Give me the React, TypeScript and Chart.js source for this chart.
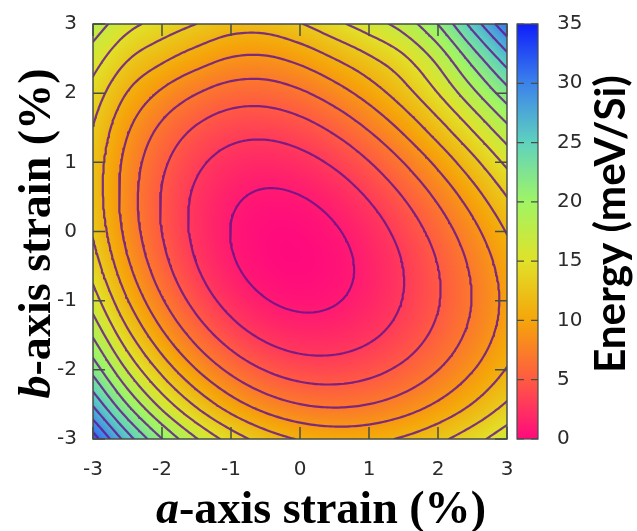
import React, { useEffect, useRef } from 'react';
import { Chart, registerables } from 'chart.js';

Chart.register(...registerables);

// ---------------- data ----------------
const aStrain = [-3, -2.5, -2, -1.5, -1, -0.5, 0, 0.5, 1, 1.5, 2, 2.5, 3];
const bStrain = [-3, -2.5, -2, -1.5, -1, -0.5, 0, 0.5, 1, 1.5, 2, 2.5, 3];

// energy (meV/Si) along aStrain, one array per b-axis strain
const energyAtBm30 = [32.06, 25.99, 21.04, 17.12, 14.17, 12.11, 10.86, 10.35, 10.5, 11.25, 12.5, 14.2, 16.26];
const energyAtBm25 = [26.74, 20.97, 16.29, 12.64, 9.92, 8.08, 7.03, 6.7, 7.02, 7.91, 9.29, 11.09, 13.24];
const energyAtBm20 = [22.33, 16.84, 12.43, 9.03, 6.55, 4.93, 4.08, 3.94, 4.42, 5.46, 6.98, 8.9, 11.14];
const energyAtBm15 = [18.77, 13.57, 9.42, 6.27, 4.02, 2.61, 1.97, 2.02, 2.67, 3.87, 5.53, 7.58, 9.94];
const energyAtBm10 = [16.03, 11.1, 7.2, 4.29, 2.27, 1.09, 0.65, 0.88, 1.72, 3.08, 4.89, 7.07, 9.56];
const energyAtBm05 = [14.06, 9.38, 5.74, 3.06, 1.27, 0.3, 0.06, 0.49, 1.51, 3.04, 5.01, 7.35, 9.97];
const energyAtB00 = [12.81, 8.38, 4.98, 2.54, 0.97, 0.21, 0.18, 0.81, 2.01, 3.72, 5.86, 8.36, 11.13];
const energyAtBp05 = [12.24, 8.05, 4.88, 2.66, 1.32, 0.77, 0.95, 1.77, 3.17, 5.06, 7.38, 10.04, 12.99];
const energyAtBp10 = [12.3, 8.35, 5.42, 3.43, 2.28, 1.93, 2.32, 3.34, 4.93, 7.02, 9.52, 12.37, 15.49];
const energyAtBp15 = [12.95, 9.29, 6.64, 4.85, 3.85, 3.67, 4.24, 5.46, 7.23, 9.48, 12.18, 15.25, 18.58];
const energyAtBp20 = [14.2, 10.91, 8.67, 7.06, 6.08, 5.96, 6.68, 8.06, 9.88, 12.14, 15.01, 18.46, 22.17];
const energyAtBp25 = [15.97, 13.16, 11.4, 9.97, 8.88, 8.73, 9.57, 11.02, 12.67, 14.63, 17.64, 21.79, 26.14];
const energyAtBp30 = [18.15, 15.67, 14.25, 12.99, 11.95, 11.89, 12.89, 14.45, 16.06, 17.87, 21.06, 25.76, 30.65];

const energyGrid = [
  energyAtBm30, energyAtBm25, energyAtBm20, energyAtBm15, energyAtBm10, energyAtBm05,
  energyAtB00, energyAtBp05, energyAtBp10, energyAtBp15, energyAtBp20, energyAtBp25, energyAtBp30,
];

const contourLevels = [1, 3, 5, 7, 9, 11, 13, 15, 17, 19, 21, 23, 25, 27, 29, 31, 33, 35];
const axisTicks = [-3, -2, -1, 0, 1, 2, 3];
const colorbarTicks = [0, 5, 10, 15, 20, 25, 30, 35];

const paletteValues = [0, 5, 10, 15, 20, 25, 30, 35];
const paletteColors = ['#ff0a7d', '#ff5a42', '#f5a50a', '#e1e128', '#a0f564', '#5fd2be', '#3c82eb', '#0f1efa'];

// ---------------- helpers ----------------
const hexToRgb = (h: string) => [parseInt(h.slice(1, 3), 16), parseInt(h.slice(3, 5), 16), parseInt(h.slice(5, 7), 16)];
const paletteRgb = paletteColors.map(hexToRgb);

function colorFor(v: number): number[] {
  const lo = paletteValues[0];
  const hi = paletteValues[paletteValues.length - 1];
  const c = Math.max(lo, Math.min(hi, v));
  let k = 0;
  while (k < paletteValues.length - 2 && c > paletteValues[k + 1]) k++;
  const t = (c - paletteValues[k]) / (paletteValues[k + 1] - paletteValues[k]);
  const p = paletteRgb[k];
  const q = paletteRgb[k + 1];
  return [p[0] + (q[0] - p[0]) * t, p[1] + (q[1] - p[1]) * t, p[2] + (q[2] - p[2]) * t];
}

const nA = aStrain.length;
const nB = bStrain.length;
const stepA = aStrain[1] - aStrain[0];
const stepB = bStrain[1] - bStrain[0];

function gv(i: number, j: number): number {
  if (i < 0) return 2 * gv(0, j) - gv(1, j);
  if (i > nB - 1) return 2 * gv(nB - 1, j) - gv(nB - 2, j);
  if (j < 0) return 2 * gv(i, 0) - gv(i, 1);
  if (j > nA - 1) return 2 * gv(i, nA - 1) - gv(i, nA - 2);
  return energyGrid[i][j];
}

function cr(p0: number, p1: number, p2: number, p3: number, t: number) {
  return 0.5 * (2 * p1 + (-p0 + p2) * t + (2 * p0 - 5 * p1 + 4 * p2 - p3) * t * t + (-p0 + 3 * p1 - 3 * p2 + p3) * t * t * t);
}

// smooth display of the read grid (like gnuplot pm3d interpolate)
function field(a: number, b: number): number {
  const x = (a - aStrain[0]) / stepA;
  const y = (b - bStrain[0]) / stepB;
  let j = Math.floor(x);
  let i = Math.floor(y);
  j = Math.max(0, Math.min(nA - 2, j));
  i = Math.max(0, Math.min(nB - 2, i));
  const tx = x - j;
  const ty = y - i;
  const r: number[] = [];
  for (let k = -1; k <= 2; k++) {
    r.push(cr(gv(i + k, j - 1), gv(i + k, j), gv(i + k, j + 1), gv(i + k, j + 2), tx));
  }
  return cr(r[0], r[1], r[2], r[3], ty);
}

type P = { x: number; y: number };

function contourLines(level: number, samples: number[][], as: number[], bs: number[]): P[] {
  const pts = new Map<string, P>();
  const adj = new Map<string, string[]>();
  const link = (k1: string, k2: string) => {
    if (!adj.has(k1)) adj.set(k1, []);
    if (!adj.has(k2)) adj.set(k2, []);
    adj.get(k1)!.push(k2);
    adj.get(k2)!.push(k1);
  };
  const cross = (key: string, x1: number, y1: number, v1: number, x2: number, y2: number, v2: number) => {
    if (!pts.has(key)) {
      const t = (level - v1) / (v2 - v1);
      pts.set(key, { x: x1 + (x2 - x1) * t, y: y1 + (y2 - y1) * t });
    }
    return key;
  };
  const M = as.length;
  const N = bs.length;
  for (let i = 0; i < N - 1; i++) {
    for (let j = 0; j < M - 1; j++) {
      const v00 = samples[i][j], v10 = samples[i][j + 1], v01 = samples[i + 1][j], v11 = samples[i + 1][j + 1];
      const s00 = v00 >= level, s10 = v10 >= level, s01 = v01 >= level, s11 = v11 >= level;
      const e: { [k: string]: string } = {};
      if (s00 !== s10) e.B = cross(`h${i}_${j}`, as[j], bs[i], v00, as[j + 1], bs[i], v10);
      if (s01 !== s11) e.T = cross(`h${i + 1}_${j}`, as[j], bs[i + 1], v01, as[j + 1], bs[i + 1], v11);
      if (s00 !== s01) e.L = cross(`v${i}_${j}`, as[j], bs[i], v00, as[j], bs[i + 1], v01);
      if (s10 !== s11) e.R = cross(`v${i}_${j + 1}`, as[j + 1], bs[i], v10, as[j + 1], bs[i + 1], v11);
      const keys = Object.keys(e);
      if (keys.length === 2) link(e[keys[0]], e[keys[1]]);
      else if (keys.length === 4) {
        const c = (v00 + v10 + v01 + v11) / 4 >= level;
        if (c === s00) { link(e.B, e.R); link(e.T, e.L); } else { link(e.B, e.L); link(e.T, e.R); }
      }
    }
  }
  const visited = new Set<string>();
  const out: P[] = [];
  const walk = (start: string) => {
    const line: string[] = [start];
    visited.add(start);
    let cur = start;
    for (;;) {
      const next = (adj.get(cur) || []).find((n) => !visited.has(n));
      if (!next) break;
      visited.add(next);
      line.push(next);
      cur = next;
    }
    if (line.length > 2 && (adj.get(cur) || []).includes(start)) line.push(start);
    line.forEach((k) => out.push(pts.get(k)!));
    out.push({ x: NaN, y: NaN });
  };
  adj.forEach((n, k) => { if (n.length === 1 && !visited.has(k)) walk(k); });
  adj.forEach((_n, k) => { if (!visited.has(k)) walk(k); });
  return out;
}

function buildContourDatasets() {
  const fine = 0.04;
  const as: number[] = [];
  const bs: number[] = [];
  for (let a = aStrain[0]; a <= aStrain[nA - 1] + 1e-9; a += fine) as.push(+a.toFixed(4));
  for (let b = bStrain[0]; b <= bStrain[nB - 1] + 1e-9; b += fine) bs.push(+b.toFixed(4));
  const samples = bs.map((b) => as.map((a) => field(a, b)));
  return contourLevels.map((lv) => ({
    label: `E = ${lv}`,
    data: contourLines(lv, samples, as, bs),
    showLine: true,
    borderColor: 'rgba(98, 20, 140, 0.82)',
    borderWidth: 2.2,
    pointRadius: 0,
    pointHoverRadius: 0,
    spanGaps: false,
    tension: 0,
    borderCapStyle: 'round',
    borderJoinStyle: 'round',
  }));
}

// ---------------- plugins ----------------
const PLOT = { left: 93, top: 24, right: 507, bottom: 439 };

const layoutPlugin = {
  id: 'fixedLayout',
  afterLayout(chart: any) {
    const W = chart.width, H = chart.height;
    chart.chartArea = { ...PLOT, width: PLOT.right - PLOT.left, height: PLOT.bottom - PLOT.top };
    const set = (s: any, l: number, t: number, r: number, b: number) => {
      if (!s) return;
      s.left = l; s.top = t; s.right = r; s.bottom = b; s.width = r - l; s.height = b - t;
      s.configure();
    };
    set(chart.scales.x, PLOT.left, PLOT.bottom, PLOT.right, H);
    set(chart.scales.y, 0, PLOT.top, PLOT.left, PLOT.bottom);
    set(chart.scales.c, PLOT.right, PLOT.top, W, PLOT.bottom);
  },
};

const heatmapPlugin = {
  id: 'heatmap',
  beforeDatasetsDraw(chart: any) {
    const { ctx, chartArea, scales } = chart;
    const x0 = Math.round(chartArea.left), y0 = Math.round(chartArea.top);
    const w = Math.round(chartArea.right) - x0, h = Math.round(chartArea.bottom) - y0;
    const img = ctx.createImageData(w, h);
    const aCol: number[] = [];
    for (let px = 0; px < w; px++) aCol.push(scales.x.getValueForPixel(x0 + px + 0.5));
    for (let py = 0; py < h; py++) {
      const b = scales.y.getValueForPixel(y0 + py + 0.5);
      for (let px = 0; px < w; px++) {
        const c = colorFor(field(aCol[px], b));
        const o = (py * w + px) * 4;
        img.data[o] = c[0]; img.data[o + 1] = c[1]; img.data[o + 2] = c[2]; img.data[o + 3] = 255;
      }
    }
    ctx.putImageData(img, x0, y0);
  },
};

const framePlugin = {
  id: 'frame',
  afterDatasetsDraw(chart: any) {
    const { ctx, chartArea, scales } = chart;
    const { left, right, top, bottom } = chartArea;
    const L = 12;
    ctx.save();
    ctx.strokeStyle = '#474d47';
    ctx.lineWidth = 1.5;
    ctx.beginPath();
    axisTicks.forEach((v) => {
      const px = scales.x.getPixelForValue(v);
      ctx.moveTo(px, bottom); ctx.lineTo(px, bottom - L);
      ctx.moveTo(px, top); ctx.lineTo(px, top + L);
      const py = scales.y.getPixelForValue(v);
      ctx.moveTo(left, py); ctx.lineTo(left + L, py);
      ctx.moveTo(right, py); ctx.lineTo(right - L, py);
    });
    ctx.stroke();
    ctx.strokeRect(left, top, right - left, bottom - top);
    ctx.restore();
  },
  afterDraw(chart: any) {
    const { ctx, chartArea, scales } = chart;
    const c = scales.c;
    // colour bar
    const bx0 = 517, bx1 = 538;
    const yTop = c.getPixelForValue(colorbarTicks[colorbarTicks.length - 1]);
    const yBot = c.getPixelForValue(colorbarTicks[0]);
    ctx.save();
    const g = ctx.createLinearGradient(0, yBot, 0, yTop);
    const span = paletteValues[paletteValues.length - 1] - paletteValues[0];
    paletteValues.forEach((v, k) => g.addColorStop((v - paletteValues[0]) / span, paletteColors[k]));
    ctx.fillStyle = g;
    ctx.fillRect(bx0, yTop, bx1 - bx0, yBot - yTop);
    ctx.strokeStyle = '#474d47';
    ctx.lineWidth = 1.2;
    ctx.strokeRect(bx0, yTop, bx1 - bx0, yBot - yTop);
    ctx.beginPath();
    colorbarTicks.forEach((v) => {
      const py = c.getPixelForValue(v);
      ctx.moveTo(bx0, py); ctx.lineTo(bx0 + 7, py);
      ctx.moveTo(bx1, py); ctx.lineTo(bx1 - 7, py);
    });
    ctx.stroke();

    // axis titles
    ctx.fillStyle = '#000';
    ctx.textBaseline = 'alphabetic';
    const drawMixed = (parts: { t: string; style: string; fam: string }[], target: number) => {
      const base = 40;
      let w = 0;
      parts.forEach((p) => { ctx.font = `${p.style} ${base}px ${p.fam}`; w += ctx.measureText(p.t).width; });
      const s = (base * target) / w;
      let x = -target / 2;
      parts.forEach((p) => {
        ctx.font = `${p.style} ${s}px ${p.fam}`;
        ctx.textAlign = 'left';
        ctx.fillText(p.t, x, 0);
        x += ctx.measureText(p.t).width;
      });
    };
    const serif = '"Liberation Serif", "Times New Roman", serif';
    // bottom
    ctx.save();
    ctx.translate(321, 523);
    drawMixed([{ t: 'a', style: 'italic bold', fam: serif }, { t: '-axis strain (%)', style: 'bold', fam: serif }], 330);
    ctx.restore();
    // left
    ctx.save();
    ctx.translate(50, (chartArea.top + chartArea.bottom) / 2 + 2);
    ctx.rotate(-Math.PI / 2);
    drawMixed([{ t: 'b', style: 'italic bold', fam: serif }, { t: '-axis strain (%)', style: 'bold', fam: serif }], 330);
    ctx.restore();
    // right
    ctx.save();
    ctx.translate(625, 224);
    ctx.rotate(-Math.PI / 2);
    drawMixed([{ t: 'Energy (meV/Si)', style: 'bold', fam: 'Lato, "Open Sans", sans-serif' }], 298);
    ctx.restore();
    ctx.restore();
  },
};

// ---------------- component ----------------
const tickFont = { family: '"DejaVu Sans", Verdana, sans-serif', size: 20 };
const tickColor = '#2b2b2b';

export default function App() {
  const ref = useRef<HTMLCanvasElement>(null);
  useEffect(() => {
    document.body.style.margin = '0';
    const canvas = ref.current!;
    const chart = new Chart(canvas, {
      type: 'scatter',
      data: { datasets: buildContourDatasets() as any },
      options: {
        animation: false,
        responsive: false,
        devicePixelRatio: 1,
        events: [],
        layout: { padding: { left: 0, right: 0, top: 24, bottom: 0 } },
        plugins: { legend: { display: false }, tooltip: { enabled: false } },
        scales: {
          x: {
            type: 'linear', position: 'bottom', min: axisTicks[0], max: axisTicks[axisTicks.length - 1],
            afterBuildTicks: (s: any) => { s.ticks = axisTicks.map((v) => ({ value: v })); },
            ticks: { font: tickFont, color: tickColor, padding: 19, maxRotation: 0, callback: (v: any) => String(v) },
            grid: { display: false, drawTicks: false },
            border: { display: false },
          },
          y: {
            type: 'linear', position: 'left', min: axisTicks[0], max: axisTicks[axisTicks.length - 1],
            afterBuildTicks: (s: any) => { s.ticks = axisTicks.map((v) => ({ value: v })); },
            ticks: { font: tickFont, color: tickColor, padding: 16, callback: (v: any) => String(v) },
            grid: { display: false, drawTicks: false },
            border: { display: false },
          },
          c: {
            type: 'linear', position: 'right', min: colorbarTicks[0], max: colorbarTicks[colorbarTicks.length - 1],
            afterBuildTicks: (s: any) => { s.ticks = colorbarTicks.map((v) => ({ value: v })); },
            ticks: { font: tickFont, color: tickColor, padding: 50, callback: (v: any) => String(v) },
            grid: { display: false, drawTicks: false },
            border: { display: false },
          },
        },
      } as any,
      plugins: [layoutPlugin, heatmapPlugin, framePlugin],
    });
    return () => chart.destroy();
  }, []);
  return (
    <div style={{ width: 637, height: 531 }}>
      <canvas ref={ref} width={637} height={531} style={{ display: 'block', width: 637, height: 531 }} />
    </div>
  );
}
